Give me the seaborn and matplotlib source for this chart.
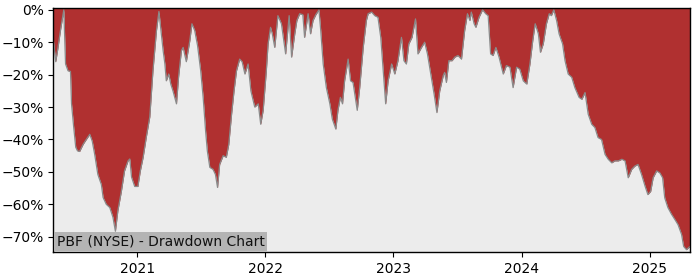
import matplotlib
matplotlib.use("Agg")
import matplotlib.pyplot as plt
import matplotlib.dates as mdates
from matplotlib.ticker import FuncFormatter
import seaborn as sns
import pandas as pd

dates = [
    "2020-05-07", "2020-05-14", "2020-05-20", "2020-05-28", "2020-06-06", "2020-06-11", "2020-06-18",
    "2020-06-25", "2020-06-28", "2020-07-04", "2020-07-10", "2020-07-15", "2020-07-21", "2020-07-31",
    "2020-08-09", "2020-08-19", "2020-08-26", "2020-09-02", "2020-09-11", "2020-09-21", "2020-09-26",
    "2020-10-05", "2020-10-15", "2020-10-24", "2020-10-31", "2020-11-07", "2020-11-17", "2020-11-26",
    "2020-12-06", "2020-12-11", "2020-12-16", "2020-12-25",
    "2021-01-03", "2021-01-10", "2021-01-18", "2021-01-27", "2021-02-06", "2021-02-15", "2021-02-25",
    "2021-03-04", "2021-03-16", "2021-03-21", "2021-03-25", "2021-04-01", "2021-04-07", "2021-04-13",
    "2021-04-23", "2021-04-29", "2021-05-07", "2021-05-12", "2021-05-21", "2021-05-31", "2021-06-06",
    "2021-06-14", "2021-06-22", "2021-07-01", "2021-07-08", "2021-07-15", "2021-07-20", "2021-07-27",
    "2021-08-05", "2021-08-12", "2021-08-18", "2021-08-24", "2021-09-03", "2021-09-12", "2021-09-19",
    "2021-09-27", "2021-10-04", "2021-10-11", "2021-10-20", "2021-10-27", "2021-11-04", "2021-11-13",
    "2021-11-21", "2021-12-02", "2021-12-12", "2021-12-19", "2021-12-26",
    "2022-01-04", "2022-01-09", "2022-01-16", "2022-01-21", "2022-01-28", "2022-02-06", "2022-02-16",
    "2022-02-28", "2022-03-10", "2022-03-17", "2022-03-26", "2022-04-01", "2022-04-09", "2022-04-18",
    "2022-04-23", "2022-05-03", "2022-05-10", "2022-05-17", "2022-05-25", "2022-06-03", "2022-06-08",
    "2022-06-15", "2022-06-24", "2022-07-04", "2022-07-11", "2022-07-21", "2022-07-27", "2022-08-03",
    "2022-08-09", "2022-08-15", "2022-08-25", "2022-09-01", "2022-09-08", "2022-09-20", "2022-09-27",
    "2022-10-07", "2022-10-16", "2022-10-21", "2022-10-31", "2022-11-09", "2022-11-18", "2022-11-26",
    "2022-12-03", "2022-12-10", "2022-12-17", "2022-12-27",
    "2023-01-05", "2023-01-14", "2023-01-24", "2023-01-31", "2023-02-07", "2023-02-14", "2023-02-23",
    "2023-03-05", "2023-03-12", "2023-03-22", "2023-03-31", "2023-04-08", "2023-04-19", "2023-04-27",
    "2023-05-05", "2023-05-13", "2023-05-23", "2023-05-27", "2023-06-01", "2023-06-08", "2023-06-17",
    "2023-06-25", "2023-07-04", "2023-07-14", "2023-07-23", "2023-07-31", "2023-08-07", "2023-08-11",
    "2023-08-19", "2023-08-24", "2023-09-02", "2023-09-12", "2023-09-21", "2023-09-28", "2023-10-05",
    "2023-10-12", "2023-10-20", "2023-10-29", "2023-11-05", "2023-11-10", "2023-11-19", "2023-11-29",
    "2023-12-08", "2023-12-18", "2023-12-27",
    "2024-01-06", "2024-01-16", "2024-01-25", "2024-02-02", "2024-02-09", "2024-02-18", "2024-02-24",
    "2024-03-03", "2024-03-12", "2024-03-20", "2024-03-26", "2024-04-02", "2024-04-10", "2024-04-17",
    "2024-04-27", "2024-05-04", "2024-05-13", "2024-05-23", "2024-06-01", "2024-06-13", "2024-06-21",
    "2024-06-30", "2024-07-09", "2024-07-19", "2024-07-28", "2024-08-06", "2024-08-16", "2024-08-26",
    "2024-09-04", "2024-09-14", "2024-09-23", "2024-10-03", "2024-10-13", "2024-10-22", "2024-10-31",
    "2024-11-10", "2024-11-19", "2024-11-28", "2024-12-08", "2024-12-18", "2024-12-26",
    "2025-01-03", "2025-01-10", "2025-01-20", "2025-01-29", "2025-02-06", "2025-02-12", "2025-02-21",
    "2025-03-03", "2025-03-13", "2025-03-22", "2025-04-01", "2025-04-07", "2025-04-15", "2025-04-20",
    "2025-04-25",
]

drawdown_pct = [
    -9, -16, -12, -6, 0, -16.7, -18.8,
    -19, -29, -36, -42.4, -43.5, -43.7, -41.5,
    -40, -38.4, -40.5, -44.6, -50.8, -53.9, -57.9,
    -60, -61, -64, -68.3, -62, -56, -49.7,
    -46.6, -46, -51.6, -54.5,
    -54.5, -49.7, -45.5, -39.3, -33, -18.8, -6.4,
    -0.5, -12.6, -16.7, -21.9, -19.8, -23, -25,
    -29, -20.7, -12.6, -11.6, -16, -9.5, -4.3,
    -6.4, -11, -18.8, -27, -37.4, -43.6, -48.6,
    -49.2, -50.8, -54.8, -47.7, -45, -45.5, -41.5,
    -32.2, -25, -18.8, -15.2, -16, -19.8, -16.7,
    -25, -30, -29, -35.3, -31,
    -18.8, -10.5, -5.4, -7.4, -11.6, -1.8, -4.3,
    -13.6, -1.8, -14.6, -7.4, -3.3, -1.2, -1.5,
    -8.5, -1.2, -7.4, -3.3, -1.5, 0, -6.4,
    -16.7, -24, -29, -33.7, -36.8, -31, -27,
    -29, -21.9, -15.2, -21.9, -22.4, -31, -24,
    -11.6, -3.3, -1.2, -0.7, -1.8, -2.3, -8.5,
    -18.8, -29, -21.9, -16.7,
    -19.8, -15.7, -8.5, -15.7, -16.7, -10.5, -8.5,
    -2.8, -13.6, -11.6, -10, -13.6, -20.8, -26,
    -31.7, -25, -20.3, -19.3, -22.4, -15.7, -15.7,
    -14.6, -14.1, -15.2, -6.4, -1.2, -3.3, -0.7,
    -4.3, -5.4, -2.3, 0, -1.2, -1.8, -13.6,
    -14.1, -11.6, -14.6, -17.7, -19.8, -17.2, -17.7,
    -24, -17.7, -18.3,
    -21.9, -22.9, -16.7, -9.5, -4.3, -7.4, -13.1,
    -10.5, -4.3, -1.2, -1.8, 0, -3.3, -7.4,
    -10.5, -15.7, -19.8, -20.8, -24, -27, -27.6,
    -25.5, -32.2, -35.3, -36.3, -39.4, -40, -44.6,
    -46.1, -47.2, -46.6, -46.6, -46.1, -46.6, -51.8,
    -49.2, -48.2, -47.7, -50.8, -54.4, -57,
    -56, -51.8, -49.7, -50.3, -51.8, -58, -61,
    -63, -64.7, -66.3, -69.3, -73, -74, -73.5,
    -73,
]

title_text = "PBF (NYSE) - Drawdown Chart"
year_ticks = ["2021", "2022", "2023", "2024", "2025"]
y_ticks_pct = [0, -10, -20, -30, -40, -50, -60, -70]

df = pd.DataFrame({"date": pd.to_datetime(dates), "dd": [v / 100 for v in drawdown_pct]})

sns.set_style("ticks")
plt.rcParams["font.family"] = ["DejaVu Sans"]

fig = plt.figure(figsize=(7, 2.8), dpi=100)
ax = fig.add_axes([0.0761, 0.099, 0.9096, 0.874])
ax.set_facecolor("#ececec")

y_top = 0.007
y_bot = -0.748
red = "#b03030"

ax.fill_between(df["date"], df["dd"], y_top, color=red, linewidth=0, zorder=1)
sns.lineplot(data=df, x="date", y="dd", color="#8a8a8a", linewidth=0.9, ax=ax, zorder=2)

ax.set_xlim(df["date"].iloc[0], df["date"].iloc[-1])
ax.set_ylim(y_bot, y_top)

ax.set_xticks(pd.to_datetime([y + "-01-01" for y in year_ticks]))
ax.xaxis.set_major_formatter(mdates.DateFormatter("%Y"))
ax.set_yticks([v / 100 for v in y_ticks_pct])
ax.yaxis.set_major_formatter(FuncFormatter(lambda v, p: f"{v*100:.0f}%".replace("-", "\u2212")))
ax.set_xlabel("")
ax.set_ylabel("")
ax.tick_params(axis="both", labelsize=10, colors="#000000", length=3.5, width=0.8)

for s in ax.spines.values():
    s.set_visible(True)
    s.set_color("black")
    s.set_linewidth(1.0)

ax.annotate(title_text, xy=(0, 0), xycoords="axes fraction", xytext=(2.6, 2.4),
            textcoords="offset points", ha="left", va="bottom", fontsize=10, color="#111111",
            bbox=dict(boxstyle="square,pad=0.18", facecolor="#b4b4b4", edgecolor="none"), zorder=5)

fig.savefig("out.png", dpi=100)
